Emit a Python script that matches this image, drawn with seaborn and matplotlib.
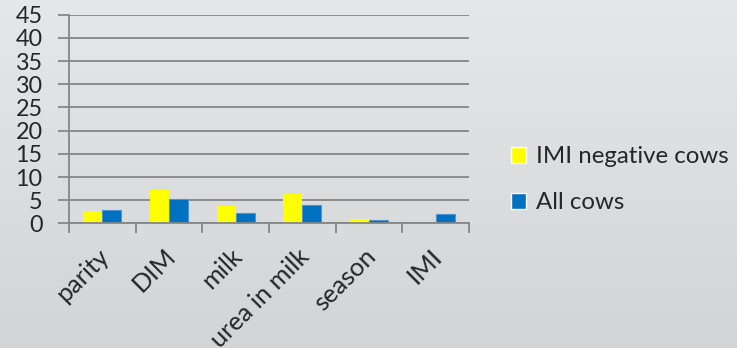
import numpy as np
import pandas as pd
import matplotlib
matplotlib.use("Agg")
import matplotlib.pyplot as plt
import matplotlib.transforms as mtransforms
from matplotlib.colors import LinearSegmentedColormap
import seaborn as sns

factors = ["parity", "DIM", "milk", "urea in milk", "season", "IMI"]
imi_negative = [2.6, 7.2, 3.7, 6.4, 0.9, 0.0]
all_cows = [3.0, 5.2, 2.2, 3.9, 0.7, 2.0]
series_names = ["IMI negative cows", "All cows"]
y_ticks = [0, 5, 10, 15, 20, 25, 30, 35, 40, 45]

df = pd.DataFrame({
    "factor": factors * 2,
    "value": imi_negative + all_cows,
    "group": [series_names[0]] * len(factors) + [series_names[1]] * len(factors),
})

sns.set_theme(style="white")
plt.rcParams["font.family"] = ["Lato", "DejaVu Sans"]
text_color = "#262626"
grid_color = "#868686"

fig = plt.figure(figsize=(7.37, 3.48), dpi=100)

# soft vertical gradient behind everything
bg = fig.add_axes([0, 0, 1, 1], zorder=-10)
grad = np.linspace(0, 1, 256).reshape(-1, 1)
cmap = LinearSegmentedColormap.from_list("bg", ["#e6e7e8", "#d3d4d6"])
bg.imshow(grad, aspect="auto", cmap=cmap, extent=[0, 1, 0, 1], origin="upper")
bg.axis("off")

ax = fig.add_axes([0.0936, 0.3578, 0.5427, 0.6])
ax.patch.set_alpha(0)

sns.barplot(data=df, x="factor", y="value", hue="group",
            palette=["#ffff00", "#0070c0"], width=0.57, gap=0,
            saturation=1, ax=ax, legend=True)

for bar, c in zip(ax.patches, ["#ffff00"] * 6 + ["#0070c0"] * 6):
    if c == "#0070c0":
        bar.set_edgecolor("#4f94cf")
        bar.set_linewidth(0.8)
    else:
        bar.set_linewidth(0)

ax.set_ylim(0, 45)
ax.set_xlim(-0.5, len(factors) - 0.5)
ax.set_yticks(y_ticks)
ax.set_yticklabels([str(t) for t in y_ticks])
ax.yaxis.grid(True, color=grid_color, linewidth=1.3)
ax.set_axisbelow(True)
ax.set_xlabel("")
ax.set_ylabel("")

for side in ["top", "right"]:
    ax.spines[side].set_visible(False)
for side in ["left", "bottom"]:
    ax.spines[side].set_color(grid_color)
    ax.spines[side].set_linewidth(1.3)

# category boundary ticks below the axis
ax.set_xticks(np.arange(-0.5, len(factors)), minor=True)
ax.tick_params(axis="x", which="minor", length=7, width=1.3, color=grid_color,
               direction="out", bottom=True)
ax.tick_params(axis="x", which="major", length=0, pad=15, labelsize=18.3,
               labelcolor=text_color)
ax.tick_params(axis="y", which="major", length=8, width=1.3, color=grid_color,
               direction="out", left=True, pad=11, labelsize=16.8,
               labelcolor=text_color)
ax.set_xticks(range(len(factors)))
ax.set_xticklabels(factors, rotation=45, ha="right", va="top",
                   rotation_mode="anchor")
shift = mtransforms.ScaledTranslation(-5 / 100, 0, fig.dpi_scale_trans)
for lab in ax.get_xticklabels():
    lab.set_transform(lab.get_transform() + shift)

leg = ax.legend(loc="center left", bbox_to_anchor=(1.05, 0.21), frameon=False,
                fontsize=17.3, labelcolor=text_color, handlelength=0.65,
                handleheight=0.65, handletextpad=0.4, labelspacing=1.05)

fig.savefig("out.png", dpi=100)
